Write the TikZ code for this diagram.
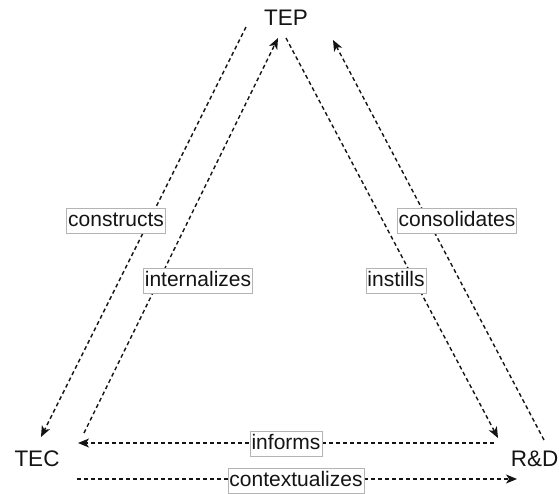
\documentclass[tikz,border=0pt]{standalone}
\usepackage{fontspec}
\setmainfont{Liberation Sans}
\usetikzlibrary{arrows.meta}
\definecolor{ink}{HTML}{141414}
\definecolor{boxline}{HTML}{B4B4B4}
\begin{document}
\begin{tikzpicture}[x=1pt,y=-1pt,
  party/.style={inner sep=0pt, text=ink, font=\fontsize{22.5}{27}\selectfont},
  flow/.style={draw=ink, line width=1.4pt, dash pattern=on 4pt off 3pt},
  flowhead/.style={flow, -{Stealth[length=11pt,width=9pt,inset=3pt]}},
  tag/.style={fill=white, draw=boxline, line width=0.8pt, text=ink,
    inner xsep=1.5pt, inner ysep=2pt, text height=16pt, text depth=5pt,
    font=\fontsize{21}{25}\selectfont}]
  \useasboundingbox (0,0) rectangle (559,493);

  % the three parties
  \node[party] (tep) at (286,18) {TEP};
  \node[party] (tec) at (37,459) {TEC};
  \node[party, anchor=east] (rd) at (558.5,459) {R\&D};

  % end points of the connectors
  \coordinate (tepA) at (246,27);
  \coordinate (tepB) at (278,38);
  \coordinate (tepC) at (286,38);
  \coordinate (tepD) at (333,40);
  \coordinate (tecA) at (41,437);
  \coordinate (tecB) at (84,433);
  \coordinate (tecC) at (78,443);
  \coordinate (tecD) at (77,479);
  \coordinate (rdA) at (498,438);
  \coordinate (rdB) at (544,440);
  \coordinate (rdC) at (494,443);
  \coordinate (rdD) at (517,479);

  % connectors
  \draw[flowhead] (tepA) -- (tecA);
  \draw[flowhead] (tecB) -- (tepB);
  \draw[flowhead] (tepC) -- (rdA);
  \draw[flowhead] (rdB) -- (tepD);
  \draw[flowhead] (rdC) -- (tecC);
  \draw[flowhead] (tecD) -- (rdD);

  % connector labels
  \node[tag] (lconstructs) at (116,221) {constructs};
  \node[tag] (linternalizes) at (198,281) {internalizes};
  \node[tag] (linstills) at (396,281) {instills};
  \node[tag] (lconsolidates) at (457,221) {consolidates};
  \node[tag] (linforms) at (286,444) {informs};
  \node[tag] (lcontext) at (296,480.5) {contextualizes};
\end{tikzpicture}
\end{document}
